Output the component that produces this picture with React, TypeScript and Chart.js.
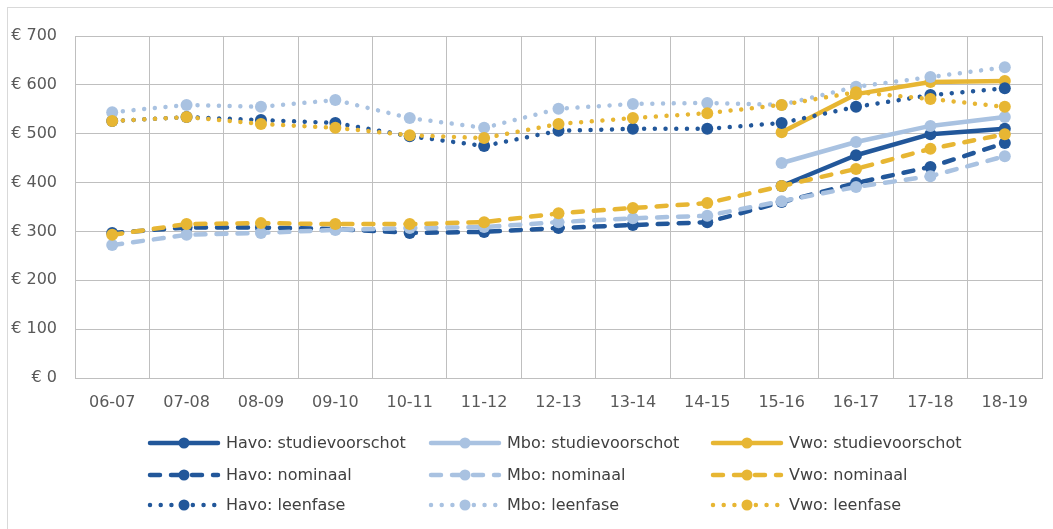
import React, { useEffect, useRef } from "react";
import { Chart, registerables } from "chart.js";

Chart.register(...registerables);

const categories = ["06-07", "07-08", "08-09", "09-10", "10-11", "11-12", "12-13", "13-14", "14-15", "15-16", "16-17", "17-18", "18-19"];

const havoStudie = [null, null, null, null, null, null, null, null, null, 393, 456, 499, 510];
const mboStudie = [null, null, null, null, null, null, null, null, null, 440, 483, 516, 534];
const vwoStudie = [null, null, null, null, null, null, null, null, null, 503, 581, 606, 608];

const havoNom = [297, 308, 308, 305, 297, 299, 307, 313, 319, 360, 399, 432, 481];
const mboNom = [272, 293, 297, 303, 307, 309, 319, 327, 332, 362, 391, 413, 454];
const vwoNom = [293, 315, 317, 315, 315, 319, 337, 348, 358, 393, 428, 469, 499];

const havoLeen = [526, 534, 528, 522, 495, 475, 506, 510, 510, 522, 555, 579, 593];
const mboLeen = [544, 559, 555, 569, 532, 512, 551, 561, 563, 559, 596, 616, 636];
const vwoLeen = [526, 534, 520, 512, 497, 491, 520, 532, 542, 559, 585, 571, 555];

const yTicks = [0, 100, 200, 300, 400, 500, 600, 700];

const DARK = "#22579A";
const LIGHT = "#A9C2E1";
const GOLD = "#E7B633";

const FONT = "'DejaVu Sans', sans-serif";

const SOLID: number[] = [];
const DASH = [10, 11];
const DOT = [0.01, 10.7];

function ds(label: string, data: (number | null)[], color: string, dash: number[], idx: number) {
  return {
    label,
    data,
    borderColor: color,
    backgroundColor: color,
    pointBackgroundColor: color,
    pointBorderColor: color,
    borderWidth: 4.5,
    borderDash: dash,
    borderCapStyle: "round" as const,
    borderJoinStyle: "round" as const,
    pointRadius: 6,
    pointBorderWidth: 0,
    pointHoverRadius: 6,
    tension: 0,
    spanGaps: false,
    order: 20 - idx,
  };
}

const legendPlugin = {
  id: "customLegend",
  afterDraw(chart: any) {
    const ctx = chart.ctx;
    const colX = [148, 429, 711];
    const rowY = [443, 475, 505];
    chart.data.datasets.forEach((d: any, i: number) => {
      const col = i % 3;
      const row = Math.floor(i / 3);
      const x0 = colX[col];
      const y = rowY[row];
      ctx.save();
      ctx.strokeStyle = d.borderColor;
      ctx.lineWidth = 4.5;
      ctx.lineCap = "round";
      ctx.setLineDash(d.borderDash || []);
      ctx.beginPath();
      ctx.moveTo(x0 + 2, y);
      ctx.lineTo(x0 + 70, y);
      ctx.stroke();
      ctx.setLineDash([]);
      ctx.fillStyle = d.borderColor;
      ctx.beginPath();
      ctx.arc(x0 + 36, y, 5.5, 0, Math.PI * 2);
      ctx.fill();
      ctx.fillStyle = "#404040";
      ctx.font = `16px ${FONT}`;
      ctx.textBaseline = "middle";
      ctx.textAlign = "left";
      ctx.fillText(d.label, x0 + 78, y + 1);
      ctx.restore();
    });
  },
};

export default function App() {
  const ref = useRef<HTMLCanvasElement>(null);
  useEffect(() => {
    if (!ref.current) return;
    const chart = new Chart(ref.current, {
      type: "line",
      data: {
        labels: categories,
        datasets: [
          ds("Havo: studievoorschot", havoStudie, DARK, SOLID, 0),
          ds("Mbo: studievoorschot", mboStudie, LIGHT, SOLID, 1),
          ds("Vwo: studievoorschot", vwoStudie, GOLD, SOLID, 2),
          ds("Havo: nominaal", havoNom, DARK, DASH, 3),
          ds("Mbo: nominaal", mboNom, LIGHT, DASH, 4),
          ds("Vwo: nominaal", vwoNom, GOLD, DASH, 5),
          ds("Havo: leenfase", havoLeen, DARK, DOT, 6),
          ds("Mbo: leenfase", mboLeen, LIGHT, DOT, 7),
          ds("Vwo: leenfase", vwoLeen, GOLD, DOT, 8),
        ],
      },
      options: {
        animation: false,
        responsive: false,
        devicePixelRatio: 1,
        layout: { padding: { left: 0, right: 11, top: 36, bottom: 0 } },
        plugins: {
          legend: { display: false },
          tooltip: { enabled: false },
          title: { display: false },
        },
        scales: {
          x: {
            type: "category",
            offset: true,
            grid: { offset: true, color: "#BFBFBF", lineWidth: 1, drawTicks: false },
            border: { color: "#BFBFBF" },
            ticks: {
              color: "#595959",
              font: { family: FONT, size: 16 },
              padding: 15,
              maxRotation: 0,
              autoSkip: false,
            },
            afterFit(scale: any) {
              scale.height = 151;
            },
          },
          y: {
            min: 0,
            max: 700,
            afterBuildTicks(scale: any) {
              scale.ticks = yTicks.map((v) => ({ value: v }));
            },
            grid: { color: "#BFBFBF", lineWidth: 1, drawTicks: false },
            border: { color: "#BFBFBF" },
            ticks: {
              color: "#595959",
              font: { family: FONT, size: 16 },
              padding: 18,
              callback: (v: any) => "€ " + v,
            },
            afterFit(scale: any) {
              scale.width = 75;
            },
          },
        },
      },
      plugins: [legendPlugin],
    });
    return () => chart.destroy();
  }, []);

  return (
    <div style={{ position: "absolute", left: 0, top: 0, width: 1053, height: 529, overflow: "hidden", background: "#fff" }}>
      <div
        style={{
          position: "absolute",
          left: 7,
          top: 7,
          width: 1100,
          height: 600,
          border: "1px solid #D9D9D9",
          boxSizing: "border-box",
        }}
      />
      <canvas ref={ref} width={1053} height={529} style={{ position: "absolute", left: 0, top: 0, width: 1053, height: 529 }} />
    </div>
  );
}
